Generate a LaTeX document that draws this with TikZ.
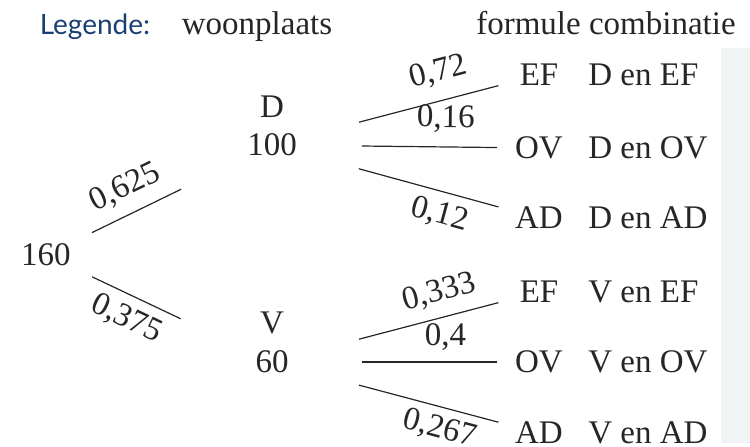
\documentclass[tikz,border=0pt]{standalone}
\usepackage{fontspec}
\setmainfont{Liberation Serif}
\newfontfamily\legendfont{Lato}
\usepackage{xcolor}
\usepackage{tikz}
\usetikzlibrary{positioning,calc}

\definecolor{navy}{RGB}{27,63,115}
\definecolor{ink}{RGB}{38,38,38}
\definecolor{panelgray}{RGB}{241,244,245}

\begin{document}
\begin{tikzpicture}[x=0.5pt, y=-0.5pt]
    \tikzstyle{txt} = [inner sep=0pt, text=ink, font=\fontsize{16.5}{19}\selectfont]
    \tikzstyle{head} = [txt, anchor=base]
    \tikzstyle{combi} = [txt, anchor=west]
    \tikzstyle{firstbranch} = [draw=ink, line width=0.6pt, shorten <=25.5pt, shorten >=50.5pt]
    \tikzstyle{branch} = [draw=ink, line width=0.6pt, shorten <=45pt, shorten >=21pt]
    \tikzstyle{prob} = [txt, sloped]

    \useasboundingbox (0,0) rectangle (750,446);

    % Headings
    \node [head, text=navy, font=\legendfont\fontsize{14}{17}\selectfont] (legend) at (95,34) {Legende:};
    \node [head] (h_city) at (257,34) {woonplaats};
    \node [head] (h_combi) at (606,34) {formule combinatie};

    % Nodes
    \node [txt] (total) at (46,255) {160};
    \node [txt] (d_num) at (272,145) {100};
    \node [txt, above=8pt of d_num] (d_city) {D};
    \node [txt] (v_num) at (272,362) {60};
    \node [txt, above=8pt of v_num] (v_city) {V};

    \node [txt] (d_ef) at (539,75) {EF};
    \node [txt] (d_ov) at (539,148) {OV};
    \node [txt] (d_ad) at (539,218) {AD};
    \node [txt] (v_ef) at (539,292) {EF};
    \node [txt] (v_ov) at (539,362) {OV};
    \node [txt] (v_ad) at (539,433) {AD};

    \node [combi] (c_d_ef) at ($(d_ef)+(49,0)$) {D en EF};
    \node [combi] (c_d_ov) at ($(d_ov)+(49,0)$) {D en OV};
    \node [combi] (c_d_ad) at ($(d_ad)+(49,0)$) {D en AD};
    \node [combi] (c_v_ef) at ($(v_ef)+(49,0)$) {V en EF};
    \node [combi] (c_v_ov) at ($(v_ov)+(49,0)$) {V en OV};
    \node [combi] (c_v_ad) at ($(v_ad)+(49,0)$) {V en AD};

    % Paths
    \draw [firstbranch] (total.center) -- node [prob, pos=0.40, above=6pt] {0,625} (d_num.center);
    \draw [firstbranch] (total.center) -- node [prob, pos=0.40, below=4.5pt] {0,375} (v_num.center);

    \draw [branch] (d_num.center) -- node [prob, pos=0.65, above=7pt] {0,72} (d_ef.center);
    \draw [branch] (d_num.center) -- node [prob, pos=0.65, above=7pt] {0,16} (d_ov.center);
    \draw [branch] (d_num.center) -- node [prob, pos=0.65, below=4.6pt] {0,12} (d_ad.center);
    \draw [branch] (v_num.center) -- node [prob, pos=0.65, above=5.3pt] {0,333} (v_ef.center);
    \draw [branch] (v_num.center) -- node [prob, pos=0.65, above=5.3pt] {0,4} (v_ov.center);
    \draw [branch] (v_num.center) -- node [prob, pos=0.65, below=3.8pt] {0,267} (v_ad.center);

    % Side panel
    \fill [panelgray] (721,48) rectangle (750,443);
\end{tikzpicture}
\end{document}
